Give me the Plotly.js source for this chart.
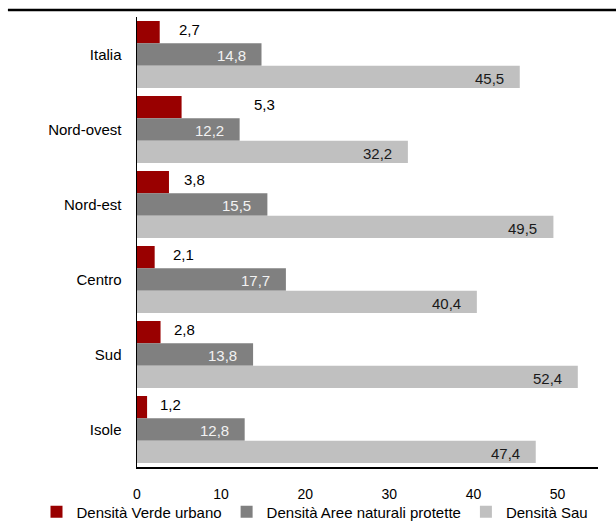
<!DOCTYPE html>
<html>
<head>
<meta charset="utf-8">
<script src="https://cdn.plot.ly/plotly-3.0.1.min.js"></script>
<style>html,body{margin:0;padding:0;background:#fff;}#chart{width:616px;height:522px;}</style>
</head>
<body>
<div id="chart"></div>
<script>
const categories = ["Italia", "Nord-ovest", "Nord-est", "Centro", "Sud", "Isole"];
const seriesNames = ["Densità Verde urbano", "Densità Aree naturali protette", "Densità Sau"];
const verdeUrbano = [2.7, 5.3, 3.8, 2.1, 2.8, 1.2];
const areeProtette = [14.8, 12.2, 15.5, 17.7, 13.8, 12.8];
const sau = [45.5, 32.2, 49.5, 40.4, 52.4, 47.4];
const xTicks = [0, 10, 20, 30, 40, 50];

const FONT = "Liberation Sans Narrow, Arial Narrow, Liberation Sans, Arial, sans-serif";
const colors = ["#990000", "#808080", "#C0C0C0"];
const fmt = v => v.toFixed(1).replace(".", ",");

const traces = [verdeUrbano, areeProtette, sau].map((vals, k) => ({
  type: "bar",
  orientation: "h",
  name: seriesNames[k],
  y: categories,
  x: vals,
  marker: {color: colors[k], line: {width: 0}},
  hoverinfo: "x+y+name"
}));

const bargap = 0.107;
const barW = (1 - bargap) / 3;
// Excel-style manual offsets (px) of the red labels from the bar end
const redLabelShift = [30, 83, 26, 29, 24, 23];

const annotations = [];
categories.forEach((c, i) => {
  annotations.push({
    x: verdeUrbano[i], y: i - barW, xref: "x", yref: "y",
    text: fmt(verdeUrbano[i]), showarrow: false,
    xanchor: "center", yanchor: "middle", xshift: redLabelShift[i], yshift: 3,
    font: {family: FONT, size: 15, color: "#000"}
  });
  annotations.push({
    x: areeProtette[i], y: i, xref: "x", yref: "y",
    text: fmt(areeProtette[i]), showarrow: false,
    xanchor: "right", yanchor: "middle", xshift: -14, yshift: -1,
    font: {family: FONT, size: 15, color: "#F2F2F2"}
  });
  annotations.push({
    x: sau[i], y: i + barW, xref: "x", yref: "y",
    text: fmt(sau[i]), showarrow: false,
    xanchor: "right", yanchor: "middle", xshift: -14, yshift: -2,
    font: {family: FONT, size: 15, color: "#1a1a1a"}
  });
});

const layout = {
  width: 616, height: 522,
  margin: {l: 137, r: 18, t: 17, b: 55, pad: 0, autoexpand: false},
  paper_bgcolor: "#fff", plot_bgcolor: "#fff",
  font: {family: FONT, size: 15, color: "#000"},
  barmode: "group",
  bargap: bargap,
  bargroupgap: 0,
  showlegend: true,
  legend: {
    orientation: "h", x: -0.218, xanchor: "left", y: -0.1, yanchor: "middle",
    font: {family: FONT, size: 15, color: "#000"},
    traceorder: "normal", itemwidth: 30, bgcolor: "rgba(0,0,0,0)"
  },
  xaxis: {
    range: [0, 54.8], tickvals: xTicks, ticktext: xTicks.map(String),
    showgrid: false, zeroline: false,
    showline: true, linecolor: "#000", linewidth: 2,
    ticks: "", ticklabelstandoff: 13,
    tickfont: {family: FONT, size: 14, color: "#000"},
    fixedrange: true
  },
  yaxis: {
    type: "category", autorange: "reversed",
    showgrid: false, zeroline: false,
    showline: true, linecolor: "#000", linewidth: 1.5,
    ticks: "", ticklabelstandoff: 11,
    tickfont: {family: FONT, size: 15, color: "#000"},
    fixedrange: true
  },
  annotations: annotations,
  shapes: [{
    type: "line", xref: "paper", yref: "paper",
    x0: -0.28, x1: 1.04, y0: 1.0156, y1: 1.0156,
    line: {color: "#000", width: 2.5}
  }]
};

Plotly.newPlot("chart", traces, layout, {displayModeBar: false, staticPlot: true});
</script>
</body>
</html>
